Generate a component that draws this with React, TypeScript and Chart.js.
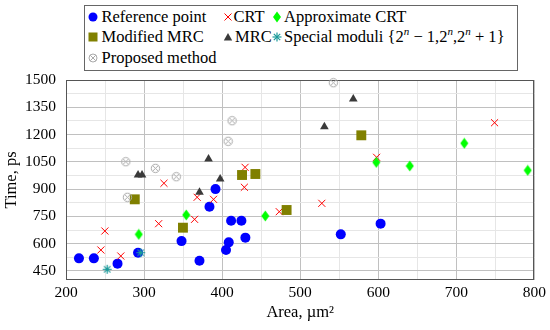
import React, { useEffect, useRef } from 'react';
import { Chart, registerables } from 'chart.js';
Chart.register(...registerables);

// ---- data (Area in µm², Time in ps) ----
const referenceX = [216.6, 235.7, 266, 292.3, 348, 371, 383.8, 391.5, 405, 408.5, 411.5, 424.7, 429.8, 552, 603];
const referenceY = [519, 519, 490, 550, 614, 506, 803, 900, 565, 607, 726, 726, 633, 651, 710];

const crtX = [249.8, 244.7, 270.2, 318.7, 325.5, 364.7, 368, 389, 428.5, 429.4, 473.2, 527.7, 597.9, 749];
const crtY = [669.5, 565, 532, 709.7, 932, 733.7, 855, 843.7, 910, 1019.7, 775.7, 821.7, 1074.8, 1265];

const approxCrtX = [293.2, 354, 455.3, 597.5, 640.4, 710.2, 791.5];
const approxCrtY = [651, 757.5, 752, 1047, 1027, 1151.8, 1003];

const modMrcX = [288.1, 349.8, 425.5, 442.6, 482.6, 578.3];
const modMrcY = [843.7, 687.7, 977.5, 983, 785, 1195.8];

const mrcX = [292.3, 297.4, 371, 382.6, 397.5, 531, 568];
const mrcY = [977.5, 977.5, 882, 1065.5, 955.5, 1243, 1395.5];

const specialX = [252.7, 295.7];
const specialY = [459, 550];

const proposedX = [276.6, 278.7, 314.5, 341.3, 407.7, 412.8, 542.5];
const proposedY = [1050.7, 855, 1014, 968, 1163, 1276, 1485];

const xTickLabels = [200, 300, 400, 500, 600, 700, 800];
const yTickLabels = [450, 600, 750, 900, 1050, 1200, 1350, 1500];

const FONT = '"Liberation Serif", "Times New Roman", serif';
const MAJOR = '#c0c0c0';
const MINOR = '#e6e6e6';

const zip = (xs: number[], ys: number[]) => xs.map((x, i) => ({ x, y: ys[i] }));

function mk(w: number, h: number, draw: (c: CanvasRenderingContext2D) => void) {
  const c = document.createElement('canvas');
  c.width = w;
  c.height = h;
  const ctx = c.getContext('2d')!;
  draw(ctx);
  return c;
}

function Icon({ kind }: { kind: string }) {
  const s = 12;
  let body: any = null;
  if (kind === 'circle') body = <circle cx={6} cy={6} r={4.5} fill="#0000ff" />;
  if (kind === 'cross')
    body = (
      <g stroke="#ff0000" strokeWidth={1}>
        <line x1={2.5} y1={2.5} x2={9.5} y2={9.5} />
        <line x1={9.5} y1={2.5} x2={2.5} y2={9.5} />
      </g>
    );
  if (kind === 'diamond') body = <polygon points="6,0.5 10,6 6,11.5 2,6" fill="#00ff00" />;
  if (kind === 'square') body = <rect x={1.5} y={1.5} width={9} height={9} fill="#808000" />;
  if (kind === 'triangle') body = <polygon points="6,2 10.2,9.5 1.8,9.5" fill="#3a3a3a" />;
  if (kind === 'asterisk')
    body = (
      <g stroke="#1a9a9a" strokeWidth={1.2}>
        {[0, 1, 2, 3].map((k) => {
          const a = (k * Math.PI) / 4;
          return <line key={k} x1={6 - 4.5 * Math.cos(a)} y1={6 - 4.5 * Math.sin(a)} x2={6 + 4.5 * Math.cos(a)} y2={6 + 4.5 * Math.sin(a)} />;
        })}
      </g>
    );
  if (kind === 'ocross')
    body = (
      <g stroke="#aaaaaa" strokeWidth={1} fill="none">
        <circle cx={6} cy={6} r={4} />
        <line x1={3.2} y1={3.2} x2={8.8} y2={8.8} />
        <line x1={8.8} y1={3.2} x2={3.2} y2={8.8} />
      </g>
    );
  return (
    <svg width={s} height={s} viewBox="0 0 12 12" style={{ display: 'block' }}>
      {body}
    </svg>
  );
}

const supStyle: React.CSSProperties = { fontSize: 11, verticalAlign: 'baseline', position: 'relative', top: -7, fontStyle: 'italic' };

const legendItems: { kind: string; ix: number; tx: number; cy: number; label: React.ReactNode }[] = [
  { kind: 'circle', ix: 93, tx: 101.5, cy: 17, label: 'Reference point' },
  { kind: 'cross', ix: 228, tx: 233.5, cy: 17, label: 'CRT' },
  { kind: 'diamond', ix: 277, tx: 284, cy: 17, label: 'Approximate CRT' },
  { kind: 'square', ix: 93, tx: 101.5, cy: 37.3, label: 'Modified MRC' },
  { kind: 'triangle', ix: 228, tx: 235, cy: 37.3, label: 'MRC' },
  {
    kind: 'asterisk',
    ix: 277,
    tx: 284,
    cy: 37.3,
    label: (
      <>
        Special moduli {'{'}2<span style={supStyle}>n</span>&nbsp;− 1,2<span style={supStyle}>n</span>,2<span style={supStyle}>n</span>&nbsp;+ 1{'}'}
      </>
    ),
  },
  { kind: 'ocross', ix: 93, tx: 101.5, cy: 57.5, label: 'Proposed method' },
];

export default function App() {
  const ref = useRef<HTMLCanvasElement>(null);

  useEffect(() => {
    const diamond = mk(9, 12, (c) => {
      c.fillStyle = '#00ff00';
      c.beginPath();
      c.moveTo(4.5, 0.5);
      c.lineTo(8.5, 6);
      c.lineTo(4.5, 11.5);
      c.lineTo(0.5, 6);
      c.closePath();
      c.fill();
    });
    const ocross = mk(11, 11, (c) => {
      c.strokeStyle = '#aaaaaa';
      c.lineWidth = 1;
      c.beginPath();
      c.arc(5.5, 5.5, 4.2, 0, Math.PI * 2);
      c.stroke();
      c.beginPath();
      c.moveTo(2.6, 2.6);
      c.lineTo(8.4, 8.4);
      c.moveTo(8.4, 2.6);
      c.lineTo(2.6, 8.4);
      c.stroke();
    });
    const asterisk = mk(11, 11, (c) => {
      c.strokeStyle = '#1a9a9a';
      c.lineWidth = 1.2;
      c.beginPath();
      for (let k = 0; k < 4; k++) {
        const a = (k * Math.PI) / 4;
        c.moveTo(5.5 - 4.5 * Math.cos(a), 5.5 - 4.5 * Math.sin(a));
        c.lineTo(5.5 + 4.5 * Math.cos(a), 5.5 + 4.5 * Math.sin(a));
      }
      c.stroke();
    });

    const frame = {
      id: 'frame',
      beforeDatasetsDraw(chart: any) {
        const { ctx, chartArea: a } = chart;
        ctx.save();
        ctx.strokeStyle = '#555555';
        ctx.lineWidth = 1;
        ctx.strokeRect(Math.round(a.left) + 0.5, Math.round(a.top) + 0.5, Math.round(a.right - a.left) - 1, Math.round(a.bottom - a.top) - 1);
        ctx.restore();
      },
    };

    const base = { showLine: false, clip: false as any };
    const chart = new Chart(ref.current!, {
      type: 'scatter',
      data: {
        datasets: [
          { ...base, label: 'Reference point', data: zip(referenceX, referenceY), pointStyle: 'circle', pointRadius: 5, backgroundColor: '#0000ff', borderWidth: 0, order: 7 },
          { ...base, label: 'CRT', data: zip(crtX, crtY), pointStyle: 'crossRot', pointRadius: 5, borderColor: '#ff0000', borderWidth: 1, order: 6 },
          { ...base, label: 'Approximate CRT', data: zip(approxCrtX, approxCrtY), pointStyle: diamond as any, order: 5 },
          { ...base, label: 'Modified MRC', data: zip(modMrcX, modMrcY), pointStyle: 'rect', pointRadius: 7, backgroundColor: '#808000', borderWidth: 0, order: 4 },
          { ...base, label: 'MRC', data: zip(mrcX, mrcY), pointStyle: 'triangle', pointRadius: 5, backgroundColor: '#3a3a3a', borderWidth: 0, order: 3 },
          { ...base, label: 'Special moduli', data: zip(specialX, specialY), pointStyle: asterisk as any, order: 2 },
          { ...base, label: 'Proposed method', data: zip(proposedX, proposedY), pointStyle: ocross as any, order: 1 },
        ] as any,
      },
      options: {
        animation: false,
        responsive: false,
        maintainAspectRatio: false,
        layout: { padding: { left: 0, top: 80, right: 15, bottom: 0 } },
        plugins: { legend: { display: false }, tooltip: { enabled: false } },
        scales: {
          x: {
            type: 'linear',
            min: 200,
            max: 800,
            afterFit: (s: any) => {
              s.height = 50;
            },
            ticks: {
              stepSize: 50,
              autoSkip: false,
              maxRotation: 0,
              padding: 4,
              color: '#000',
              font: { family: FONT, size: 15.5 },
              callback: (v: any) => (xTickLabels.includes(Number(v)) ? String(v) : ''),
            },
            grid: {
              drawTicks: false,
              color: (c: any) => (c.tick && xTickLabels.includes(c.tick.value) ? MAJOR : MINOR),
            },
            border: { display: false },
            title: { display: true, text: 'Area, µm²', color: '#000', font: { family: FONT, size: 16.5 }, padding: { top: 0, bottom: 7 } },
          },
          y: {
            type: 'linear',
            min: 400,
            max: 1500,
            afterFit: (s: any) => {
              s.width = 66;
            },
            afterBuildTicks: (s: any) => {
              const t: any[] = [];
              yTickLabels.forEach((v, i) => {
                t.push({ value: v });
                if (i < yTickLabels.length - 1) t.push({ value: (v + yTickLabels[i + 1]) / 2 });
              });
              s.ticks = t;
            },
            ticks: {
              autoSkip: false,
              padding: 10,
              color: '#000',
              font: { family: FONT, size: 15.5 },
              callback: (v: any) => (yTickLabels.includes(Number(v)) ? String(v) : ''),
            },
            grid: {
              drawTicks: false,
              color: (c: any) => (c.tick && yTickLabels.includes(c.tick.value) ? MAJOR : MINOR),
            },
            border: { display: false },
            title: { display: true, text: 'Time, ps', color: '#000', font: { family: FONT, size: 16.5 }, padding: { top: 2, bottom: 0 } },
          },
        },
      },
      plugins: [frame],
    } as any);
    return () => chart.destroy();
  }, []);

  return (
    <div style={{ position: 'absolute', left: 0, top: 0, width: 550, height: 330, background: '#fff', fontFamily: FONT }}>
      <canvas ref={ref} width={550} height={330} style={{ position: 'absolute', left: 0, top: 0, width: 550, height: 330 }} />
      <div
        style={{
          position: 'absolute',
          left: 84,
          top: 5,
          width: 434,
          height: 66,
          boxSizing: 'border-box',
          border: '1px solid #666',
          background: '#fff',
        }}
      />
      {legendItems.map((it, i) => (
        <React.Fragment key={i}>
          <div style={{ position: 'absolute', left: it.ix - 6, top: it.cy - 6 }}>
            <Icon kind={it.kind} />
          </div>
          <span
            style={{
              position: 'absolute',
              left: it.tx,
              top: it.cy - 10,
              fontFamily: FONT,
              fontSize: 16.5,
              lineHeight: '20px',
              whiteSpace: 'nowrap',
              color: '#000',
            }}
          >
            {it.label}
          </span>
        </React.Fragment>
      ))}
    </div>
  );
}
